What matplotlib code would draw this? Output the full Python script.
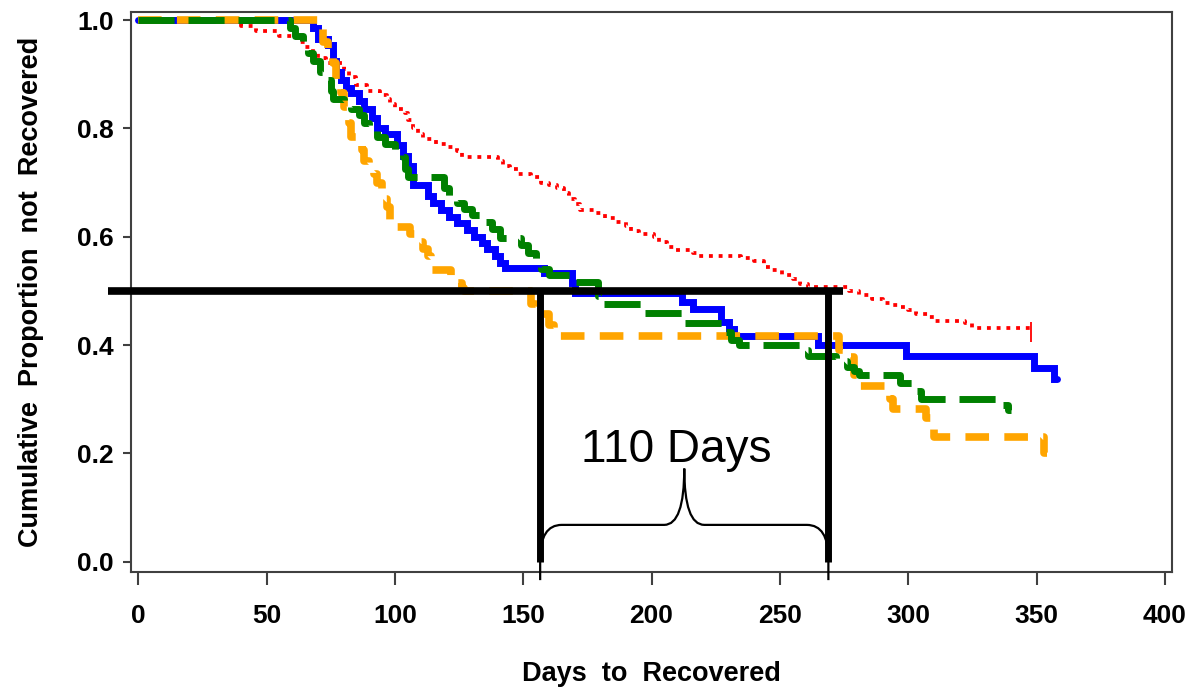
import matplotlib
matplotlib.use("Agg")
import matplotlib.pyplot as plt
from matplotlib.path import Path
from matplotlib.patches import PathPatch

plt.rcParams['font.family'] = ['Liberation Sans', 'DejaVu Sans']
plt.rcParams['lines.scale_dashes'] = False

# Kaplan-Meier style curves (day of step, proportion after step)
red_days = [0, 40, 46, 55, 62, 65, 68, 70, 73, 80, 82, 85, 89, 94, 97, 98, 100, 104, 105, 107,
            109, 111, 116, 120, 124, 126, 140, 142, 145, 148, 153, 157, 160, 163, 166, 168, 170, 172, 178, 182,
            186, 190, 192, 195, 201, 203, 206, 209, 216, 218, 235, 240, 244, 246, 251, 255, 258, 261, 277, 281,
            286, 290, 293, 296, 300, 303, 308, 310, 322, 325, 348]
red_surv = [1.0, .99, .98, .97, .96, .95, .94, .93, .92, .91, .895, .88, .87, .862, .855, .845, .835, .828, .815, .80,
            .79, .78, .772, .765, .758, .748, .74, .73, .725, .715, .71, .70, .695, .69, .68, .67, .66, .65, .643, .635,
            .628, .62, .61, .605, .60, .59, .582, .575, .57, .565, .56, .555, .545, .538, .53, .522, .513, .508, .50, .492,
            .485, .478, .474, .47, .465, .458, .452, .445, .44, .432, .432]

blue_days = [0, 68, 70, 74, 76, 77, 79, 81, 83, 86, 88, 91, 93, 96, 101, 103, 105, 107, 113, 115,
             118, 121, 124, 128, 131, 134, 136, 139, 141, 143, 158, 169, 170, 212, 216, 227, 230, 232, 265, 299,
             349, 357, 358]
blue_surv = [1.0, .985, .965, .955, .925, .905, .89, .875, .865, .85, .835, .82, .80, .79, .77, .75, .73, .695, .675, .663,
             .65, .637, .625, .613, .60, .589, .577, .564, .552, .543, .534, .515, .497, .479, .466, .442, .43, .416, .40, .38,
             .358, .337, .337]

green_days = [0, 59, 61, 64, 66, 68, 71, 73, 75, 76, 80, 83, 86, 88, 90, 93, 96, 100, 103, 104,
              105, 119, 121, 124, 127, 130, 134, 138, 141, 149, 152, 155, 157, 160, 169, 179, 181, 197, 212, 228,
              231, 234, 259, 261, 272, 276, 279, 281, 297, 303, 305, 336, 339, 340]
green_surv = [1.0, .985, .97, .955, .94, .925, .905, .89, .87, .855, .845, .835, .825, .81, .80, .785, .772, .76, .748, .725,
              .71, .69, .675, .663, .652, .64, .628, .615, .598, .585, .57, .555, .54, .53, .516, .49, .475, .46, .44, .425,
              .41, .40, .39, .38, .37, .36, .352, .345, .33, .315, .30, .29, .28, .28]

orange_days = [0, 70, 72, 74, 76, 77, 79, 80, 82, 83, 85, 87, 88, 90, 92, 93, 95, 96, 97, 98,
               106, 108, 111, 113, 114, 122, 124, 126, 127, 153, 155, 160, 162, 273, 275, 279, 281, 293, 294, 307,
               310, 353, 354]
orange_surv = [1.0, .985, .96, .94, .92, .89, .865, .84, .81, .785, .77, .76, .74, .725, .715, .70, .685, .67, .655, .618,
               .605, .59, .578, .565, .538, .527, .515, .505, .50, .475, .458, .437, .416, .39, .378, .345, .325, .30, .282, .265,
               .231, .20, .20]

# median recovery times marked on the chart
median_days = [156.6, 268.9]
half_line_days = [-11.7, 274.6]
gap_label = "110 Days"

xticks = [0, 50, 100, 150, 200, 250, 300, 350, 400]
yticks = [0.0, 0.2, 0.4, 0.6, 0.8, 1.0]

fig = plt.figure(figsize=(11.9, 6.9), dpi=100)
ax = fig.add_axes([0.1098, 0.1714, 0.8751, 0.8112])

ax.step(red_days, red_surv, where='post', color='#ff0000', lw=2.7,
        linestyle=(0, (2.8, 4.2)), zorder=2)
ax.plot(red_days[-1], red_surv[-1] - 0.008, marker='|', ms=14, mew=1.3, color='#ff0000', zorder=2)
ax.step(blue_days, blue_surv, where='post', color='#0000ff', lw=5,
        solid_capstyle='round', solid_joinstyle='miter', zorder=3)
ax.step(orange_days, orange_surv, where='post', color='#ffa500', lw=5.5,
        linestyle=(0, (17, 11)), zorder=4)
ax.step(green_days, green_surv, where='post', color='#008000', lw=5,
        linestyle=(0, (26, 10)), zorder=5)

# median reference lines
ax.plot(half_line_days, [0.5, 0.5], color='black', lw=5.5, solid_capstyle='butt',
        clip_on=False, zorder=10)
for d in median_days:
    ax.plot([d, d], [0.5, 0.0], color='black', lw=5, solid_capstyle='butt', zorder=10)

# curly brace between the medians
left, right = median_days
mid = (left + right) / 2
y_bot, y_start, y_bar, y_tip = -0.034, 0.005, 0.068, 0.172
r_corner, r_tip = 8.4, 7.8
verts = [(left, y_bot), (left, y_start), (left, y_bar), (left + r_corner, y_bar),
         (mid - r_tip, y_bar), (mid, y_bar), (mid, y_tip),
         (right, y_bot), (right, y_start), (right, y_bar), (right - r_corner, y_bar),
         (mid + r_tip, y_bar), (mid, y_bar), (mid, y_tip)]
codes = [Path.MOVETO, Path.LINETO, Path.CURVE3, Path.CURVE3,
         Path.LINETO, Path.CURVE3, Path.CURVE3] * 2
ax.add_patch(PathPatch(Path(verts, codes), fill=False, lw=1.6, edgecolor='black',
                       clip_on=False, zorder=11))
ax.text(mid - 3.3, 0.185, gap_label, fontsize=33, ha='center', va='baseline',
        color='black', zorder=12)

ax.set_xlim(-2.96, 402.8)
ax.set_ylim(-0.0185, 1.015)
ax.set_xticks(xticks)
ax.set_xticklabels([str(x) for x in xticks])
ax.set_yticks(yticks)
ax.set_yticklabels([f"{y:.1f}" for y in yticks])

for s in ax.spines.values():
    s.set_color('#404040')
    s.set_linewidth(1.5)
ax.tick_params(axis='x', direction='out', length=9, width=1.5, color='#404040',
               pad=14, labelsize=19)
ax.tick_params(axis='y', direction='out', length=6, width=1.5, color='#404040',
               pad=6, labelsize=19)
for lab in ax.get_xticklabels() + ax.get_yticklabels():
    lab.set_fontweight('bold')

ax.set_xlabel("Days  to  Recovered", fontsize=19.5, fontweight='bold')
ax.xaxis.set_label_coords(0.5, -0.160)
ax.set_ylabel("Cumulative  Proportion  not  Recovered", fontsize=19.5, fontweight='bold')
ax.yaxis.set_label_coords(-0.0833, 0.5)

fig.savefig("out.png", dpi=100)
